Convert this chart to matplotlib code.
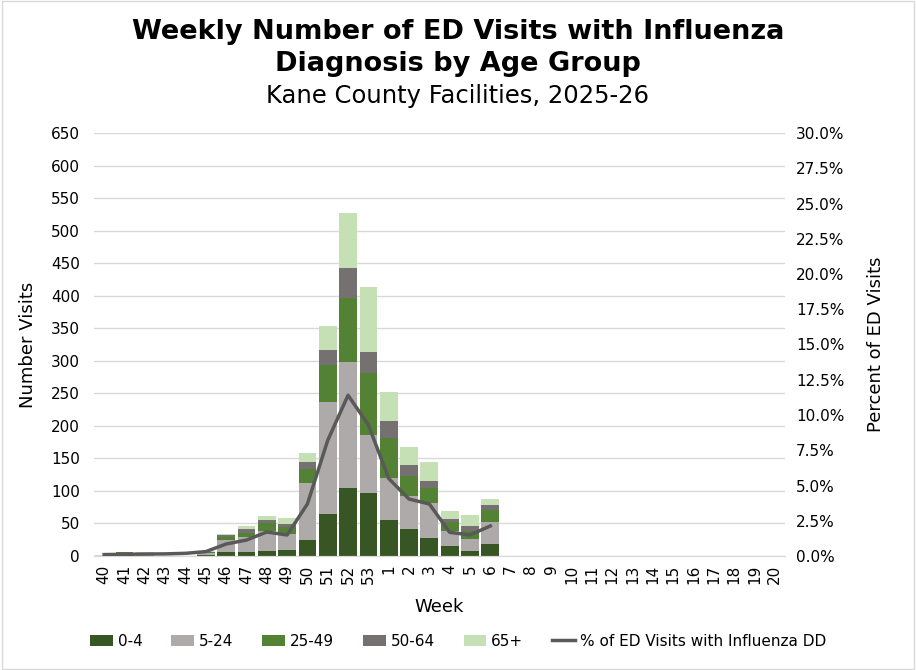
import numpy as np
import matplotlib
matplotlib.use('Agg')
import matplotlib.pyplot as plt
from matplotlib.ticker import FuncFormatter

plt.rcParams['font.family'] = ['DejaVu Sans']

# Data
weeks = [str(w) for w in range(40, 54)] + [str(w) for w in range(1, 21)]
age_groups = ['0-4', '5-24', '25-49', '50-64', '65+']
colors = ['#375623', '#AEAAAA', '#548235', '#767171', '#C5E0B4']

# weeks 40..53, 1..6 have data, rest empty
v_0_4   = [0, 2, 0, 0, 0, 1, 6, 6, 8, 9, 25, 65, 105, 97, 55, 42, 28, 15, 8, 18]
v_5_24  = [0, 1, 3, 0, 0, 3, 19, 23, 31, 25, 87, 172, 193, 89, 65, 50, 53, 23, 18, 34]
v_25_49 = [0, 3, 1, 0, 0, 2, 4, 6, 12, 10, 21, 57, 99, 95, 61, 31, 23, 15, 12, 18]
v_50_64 = [0, 0, 0, 0, 0, 0, 3, 7, 4, 5, 11, 23, 46, 33, 26, 17, 12, 4, 8, 8]
v_65    = [1, 0, 2, 0, 0, 1, 2, 4, 7, 9, 14, 36, 84, 100, 45, 28, 28, 12, 17, 9]
pct_flu = [0.1, 0.12, 0.14, 0.15, 0.19, 0.31, 0.85, 1.13, 1.7, 1.49, 3.69,
           8.2, 11.4, 9.3, 5.5, 4.04, 3.69, 1.68, 1.49, 2.13]

series = [v_0_4, v_5_24, v_25_49, v_50_64, v_65]

fig = plt.figure(figsize=(9.16, 6.7), dpi=100)
ax = fig.add_axes([94/916, 1 - 556/670, 691/916, 423/670])
ax2 = ax.twinx()

x = np.arange(len(weeks))
n = len(v_0_4)
bottom = np.zeros(n)
for name, vals, c in zip(age_groups, series, colors):
    ax.bar(x[:n], vals, width=0.87, bottom=bottom, color=c, label=name, zorder=2)
    bottom += np.array(vals)

ax2.plot(x[:n], pct_flu, color='#595959', linewidth=2.5,
         label='% of ED Visits with Influenza DD', zorder=3)

ax.set_xlim(-0.5, len(weeks) - 0.5)
ax.set_ylim(0, 650)
ax.set_yticks(np.arange(0, 651, 50))
ax2.set_ylim(0, 30)
ax2.set_yticks(np.arange(0, 30.1, 2.5))
ax2.yaxis.set_major_formatter(FuncFormatter(lambda v, p: f'{v:.1f}%'))

ax.set_xticks(x)
ax.set_xticklabels(weeks, rotation=90)
ax.grid(axis='y', color='#D9D9D9', linewidth=1, zorder=0)
ax.set_axisbelow(True)

for a in (ax, ax2):
    for s in ['top', 'left', 'right']:
        a.spines[s].set_visible(False)
    a.spines['bottom'].set_color('#D9D9D9')
    a.tick_params(length=0, labelsize=11, colors='black')
ax.tick_params(axis='y', pad=10)
ax2.tick_params(axis='y', pad=8)
ax.tick_params(axis='x', pad=6)

ax.set_ylabel('Number Visits', fontsize=13, labelpad=10)
ax2.set_ylabel('Percent of ED Visits', fontsize=13, labelpad=16)
ax.set_xlabel('Week', fontsize=13, labelpad=10)

fig.text(0.5, 1 - 32/670, 'Weekly Number of ED Visits with Influenza', ha='center',
         va='center', fontsize=19.5, fontweight='bold')
fig.text(0.5, 1 - 64/670, 'Diagnosis by Age Group', ha='center',
         va='center', fontsize=19.5, fontweight='bold')
fig.text(0.5, 1 - 96/670, 'Kane County Facilities, 2025-26', ha='center',
         va='center', fontsize=17.5)

h1, l1 = ax.get_legend_handles_labels()
h2, l2 = ax2.get_legend_handles_labels()
fig.legend(h1 + h2, l1 + l2, loc='center', bbox_to_anchor=(0.5, 1 - 641/670),
           ncol=6, frameon=False, fontsize=11, handlelength=1.5,
           handletextpad=0.3, columnspacing=1.9)

fig.patches.append(plt.Rectangle((0.002, 0.002), 0.996, 0.996, transform=fig.transFigure,
                                 fill=False, edgecolor='#D9D9D9', linewidth=1))

fig.savefig('out.png', dpi=100)
